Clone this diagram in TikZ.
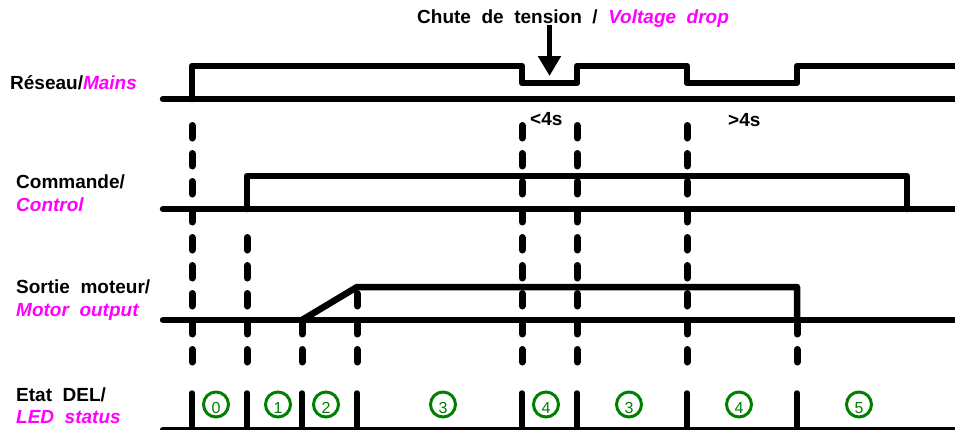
\documentclass[tikz,border=0pt]{standalone}
\usepackage{fontspec}
\setmainfont{Liberation Sans}[WordSpace=2]
\usetikzlibrary{arrows.meta}
\definecolor{mag}{RGB}{255,0,255}
\definecolor{ledgreen}{RGB}{0,128,0}
\newcommand{\en}[1]{{\color{mag}\itshape #1}}
\begin{document}
\begin{tikzpicture}[x=1pt,y=-1pt,
  sig/.style={line width=6.5pt, line cap=round, line join=round},
  guidedash/.style={line width=7pt, line cap=round},
  ledbar/.style={line width=5.5pt, line cap=round},
  lbl/.style={anchor=base west, inner sep=0pt, font=\fontsize{19}{22}\selectfont\bfseries},
  ledc/.style={circle, draw=ledgreen, line width=3pt, minimum size=25pt, inner sep=0pt,
    label={[text=ledgreen, font=\fontsize{16}{16}\selectfont, yshift=-3.5pt, inner sep=0pt]center:#1}}
]
\useasboundingbox (0,0) rectangle (955,429);

% guide lines (dashed, drawn dash by dash)
\foreach \gx/\ks in {192/0, 247/4, 302/7, 357/6, 522/0, 577/0, 687/0, 797/7}
  \foreach \k in {\ks,...,8}
    \draw[guidedash] (\gx,125.5+28*\k) -- (\gx,138+28*\k);

% Mains
\draw[sig] (163,99) -- (962,99);
\draw[sig] (192,99) -- (192,66) -- (522,66) -- (522,83) -- (577,83) -- (577,66)
  -- (687,66) -- (687,83) -- (797,83) -- (797,66) -- (962,66);
% Control
\draw[sig] (163,209) -- (962,209);
\draw[sig] (247,209) -- (247,176) -- (907,176) -- (907,209);
% Motor output
\draw[sig] (163,320) -- (962,320);
\draw[sig] (302,320) -- (357,287) -- (797,287) -- (797,320);
% LED status
\draw[sig] (163,430) -- (962,430);
\foreach \lx in {192,247,302,357,522,577,687,797}
  \draw[ledbar] (\lx,393) -- (\lx,432);

% circled states
\node[ledc=0] (s0) at (216,404.5) {};
\node[ledc=1] (s1) at (278,404.5) {};
\node[ledc=2] (s2) at (326,404.5) {};
\node[ledc=3] (s3) at (443,404.5) {};
\node[ledc=4] (s4) at (546,404.5) {};
\node[ledc=3] (s5) at (629,404.5) {};
\node[ledc=4] (s6) at (739,404.5) {};
\node[ledc=5] (s7) at (859,404.5) {};

% labels
\node[lbl] (title) at (417,23) {Chute de tension / \en{Voltage drop}};
\node[lbl] (lt4) at (530,125) {<4s};
\node[lbl] (gt4) at (728,126) {>4s};
\node[lbl] (mains) at (10,89.5) {Réseau/\en{Mains}};
\node[lbl] (cmd) at (16,188) {Commande/};
\node[lbl] (ctl) at (16,211.5) {\en{Control}};
\node[lbl] (sortie) at (16,293) {Sortie moteur/};
\node[lbl] (motor) at (16,316) {\en{Motor output}};
\node[lbl] (etat) at (16,401.5) {Etat DEL/};
\node[lbl] (led) at (16,423) {\en{LED status}};

% arrow
\coordinate (arrtop) at (549.5,25);
\coordinate (arrtip) at (549.5,76);
\draw[line width=5pt, -{Triangle[length=20pt,width=22pt]}] (arrtop) -- (arrtip);
\end{tikzpicture}
\end{document}
